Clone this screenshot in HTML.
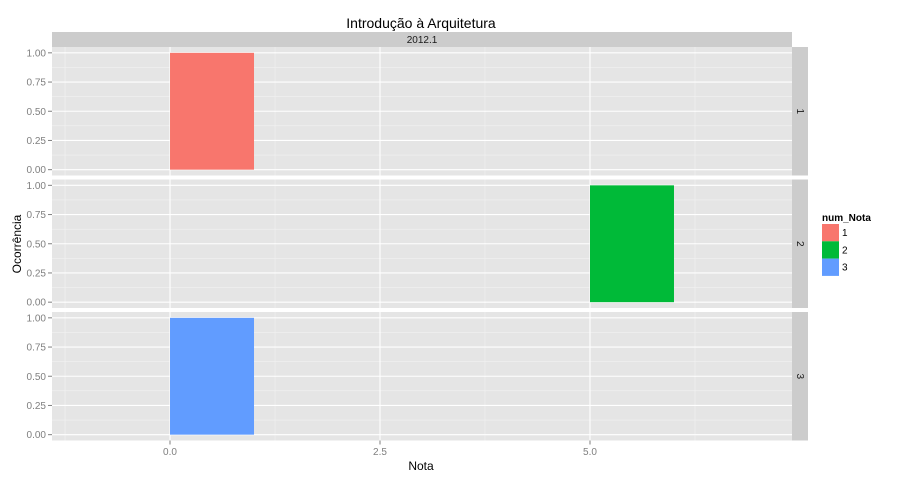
<!DOCTYPE html>
<html><head><meta charset="utf-8"><style>
body{margin:0;background:#fff;}
svg text{font-family:"Liberation Sans",sans-serif;}
</style></head><body>
<svg id="c" width="900" height="480" xmlns="http://www.w3.org/2000/svg"></svg>
<script>
const panels = ["1","2","3"];
const barStart = [0, 5, 0];
const barEnd = [1, 6, 1];
const barCount = [1, 1, 1];
const colors = ["#F8766D","#00BA38","#619CFF"];
const xTicks = [0, 2.5, 5];
const xTickLabels = ["0.0","2.5","5.0"];
const yTicks = [0, 0.25, 0.5, 0.75, 1];
const yTickLabels = ["0.00","0.25","0.50","0.75","1.00"];
const NS="http://www.w3.org/2000/svg";
const svg=document.getElementById('c');
function mk(t,a,txt){const e=document.createElementNS(NS,t);for(const k in a)e.setAttribute(k,a[k]);if(txt!==undefined)e.textContent=txt;svg.appendChild(e);return e;}
const L=52,R=792;
const xMin=-1.405,xMax=7.405;
const X=v=>L+(v-xMin)/(xMax-xMin)*(R-L);
const tops=[47,179.5,312],PH=128.5;
const Y=(v,i)=>tops[i]+PH-(v+0.05)/1.1*PH;
let e;
e=mk('text',{x:421,y:28,'font-size':14,'text-anchor':'middle',fill:'#000'},'Introdução à Arquitetura');

e=mk('rect',{x:L,y:32,width:R-L,height:15,fill:'#ccc'});

e=mk('text',{x:(L+R)/2,y:43,'font-size':10,'text-anchor':'middle',fill:'#1a1a1a'},'2012.1');

const minorX=[];for(let i=0;i<xTicks.length-1;i++)minorX.push((xTicks[i]+xTicks[i+1])/2);
minorX.push(xTicks[0]-(xTicks[1]-xTicks[0])/2);minorX.push(xTicks[xTicks.length-1]+(xTicks[1]-xTicks[0])/2);
panels.forEach((p,i)=>{
  const t=tops[i];
  e=mk('rect',{x:L,y:t,width:R-L,height:PH,fill:'#e5e5e5'});
  
  for(let k=0;k<yTicks.length-1;k++){const v=(yTicks[k]+yTicks[k+1])/2;
    mk('line',{x1:L,x2:R,y1:Y(v,i),y2:Y(v,i),stroke:'#f2f2f2','stroke-width':0.6});}
  minorX.forEach(v=>mk('line',{x1:X(v),x2:X(v),y1:t,y2:t+PH,stroke:'#f2f2f2','stroke-width':0.6}));
  yTicks.forEach((v,k)=>{
    mk('line',{x1:L,x2:R,y1:Y(v,i),y2:Y(v,i),stroke:'#fff','stroke-width':1.1});
    mk('line',{x1:L-4,x2:L,y1:Y(v,i),y2:Y(v,i),stroke:'#7f7f7f'});
    e=mk('text',{x:L-6,y:Y(v,i)+3.5,'font-size':10,'text-anchor':'end',fill:'#7f7f7f'},yTickLabels[k]);
    
  });
  xTicks.forEach(v=>mk('line',{x1:X(v),x2:X(v),y1:t,y2:t+PH,stroke:'#fff','stroke-width':1.1}));
  e=mk('rect',{x:X(barStart[i]),y:Y(barCount[i],i),width:X(barEnd[i])-X(barStart[i]),height:Y(0,i)-Y(barCount[i],i),fill:colors[i]});
  
  e=mk('rect',{x:R,y:t,width:16,height:PH,fill:'#ccc'});
  
  e=mk('text',{x:0,y:0,'font-size':10,'text-anchor':'middle',fill:'#1a1a1a',transform:`translate(${R+5},${t+PH/2}) rotate(90)`},p);
  
});
xTicks.forEach((v,k)=>{
  mk('line',{x1:X(v),x2:X(v),y1:440.5,y2:444.5,stroke:'#7f7f7f'});
  e=mk('text',{x:X(v),y:455,'font-size':10,'text-anchor':'middle',fill:'#7f7f7f'},xTickLabels[k]);
  
});
e=mk('text',{x:421,y:470,'font-size':12,'text-anchor':'middle',fill:'#000'},'Nota');

e=mk('text',{x:0,y:0,'font-size':12,'text-anchor':'middle',fill:'#000',transform:'translate(21,244) rotate(-90)'},'Ocorrência');

e=mk('text',{x:822,y:221,'font-size':10,'font-weight':'bold',fill:'#000'},'num_Nota');

panels.forEach((p,i)=>{
  e=mk('rect',{x:822,y:224+i*17.3,width:17,height:17.3,fill:colors[i]});
  
  e=mk('text',{x:842,y:236+i*17.3,'font-size':10,fill:'#000'},p);
  
});
</script>
</body></html>
